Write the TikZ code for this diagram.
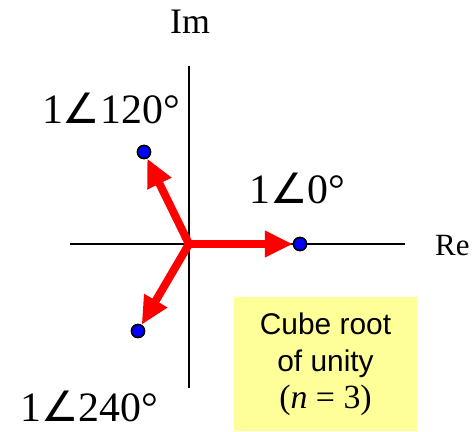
\documentclass[tikz,border=0pt]{standalone}
\usepackage{fontspec}
\setmainfont{Liberation Serif}
\setsansfont{Liberation Sans}
\newfontfamily\angfont{DejaVu Sans}
\usetikzlibrary{arrows.meta}
\newcommand{\myang}{{\angfont\char"2220}}
\definecolor{boxyellow}{HTML}{FFFF99}
\begin{document}
\begin{tikzpicture}[x=1bp,y=-1bp,
  axis/.style={line width=1.6bp,black},
  phasor/.style={line width=8bp,red,-{Triangle[length=28bp,width=25bp]}},
  dot/.style={circle,fill=blue,draw=black,line width=1.5bp,minimum size=13bp,inner sep=0pt},
  biglabel/.style={font=\fontsize{42}{48}\selectfont,inner sep=0pt,anchor=base},
  axlabel/.style={font=\fontsize{36}{40}\selectfont,inner sep=0pt,anchor=base}]
\useasboundingbox (0,0) rectangle (474,431);
% box
\node[fill=boxyellow,minimum width=183bp,minimum height=134bp,inner sep=0pt,
  align=center,font=\sffamily\fontsize{30}{37}\selectfont] (box) at (325.5,364)
  {Cube root\\of unity\\{\rmfamily\fontsize{34}{37}\selectfont(\textit{n} = 3)}};
% axes
\coordinate (O) at (189,244);
\coordinate (ytop) at (189,66);
\coordinate (ybot) at (189,388);
\coordinate (xl) at (70,244);
\coordinate (xr) at (405,244);
\draw[axis] (ytop) -- (ybot);
\draw[axis] (xl) -- (xr);
\node[axlabel] (im) at (190,33) {Im};
\node[axlabel,anchor=base west,font=\fontsize{31}{36}\selectfont] (re) at (435,255) {Re};
% dots
\node[dot] (d0) at (300,244) {};
\node[dot] (d1) at (144,152) {};
\node[dot] (d2) at (138,331) {};
% phasors
\draw[phasor] (O) -- (d0);
\draw[phasor] (O) -- (d1);
\draw[phasor] (O) -- (d2);
\node[dot] at (d0) {};
\node[dot] at (d1) {};
\node[dot] at (d2) {};
% labels
\node[biglabel] (l0) at (297.5,203) {1\myang0°};
\node[biglabel] (l1) at (111,123) {1\myang120°};
\node[biglabel] (l2) at (89.5,421) {1\myang240°};
\end{tikzpicture}
\end{document}
